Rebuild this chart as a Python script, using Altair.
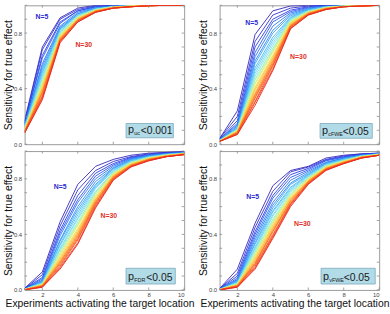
import altair as alt
import pandas as pd

# Sample sizes (one curve each) and the number of experiments on the x axis
N_VALUES = list(range(5, 31))
EXPERIMENTS = list(range(1, 11))

# Sensitivity per experiment count; each inner list runs N=5 ... N=30
SENS_UC = [
    [.17, .16, .15, .15, .14, .14, .13, .13, .12, .12, .12, .11, .11, .11, .11, .10, .10, .10, .10, .09, .09, .09, .09, .09, .08, .08],
    [.70, .68, .64, .62, .58, .56, .54, .52, .51, .49, .48, .46, .45, .44, .43, .42, .41, .40, .39, .38, .37, .37, .35, .34, .33, .32],
    [.91, .90, .88, .87, .85, .84, .83, .83, .82, .81, .80, .80, .79, .79, .78, .78, .77, .77, .76, .76, .76, .75, .75, .74, .74, .73],
    [.98, .97, .96, .96, .95, .94, .94, .93, .93, .93, .92, .92, .92, .91, .91, .91, .90, .90, .90, .90, .89, .89, .89, .89, .88, .88],
    [1.0, .995, .99, .99, .985, .98, .98, .975, .975, .97, .97, .97, .97, .965, .965, .96, .96, .96, .96, .96, .955, .955, .955, .95, .95, .95],
    [1.0, 1.0, 1.0, .995, .995, .995, .99, .99, .99, .99, .99, .99, .99, .985, .985, .985, .985, .985, .985, .985, .98, .98, .98, .98, .98, .98],
    [1.0, 1.0, 1.0, 1.0, 1.0, 1.0, 1.0, 1.0, .995, .995, .995, .995, .995, .995, .995, .995, .995, .995, .99, .99, .99, .99, .99, .99, .99, .99],
    [1.0, 1.0, 1.0, 1.0, 1.0, 1.0, 1.0, 1.0, 1.0, 1.0, 1.0, 1.0, 1.0, 1.0, 1.0, 1.0, .997, .997, .997, .997, .997, .997, .997, .997, .997, .997],
    [1.0, 1.0, 1.0, 1.0, 1.0, 1.0, 1.0, 1.0, 1.0, 1.0, 1.0, 1.0, 1.0, 1.0, 1.0, 1.0, 1.0, 1.0, 1.0, 1.0, 1.0, 1.0, 1.0, 1.0, 1.0, 1.0],
    [1.0, 1.0, 1.0, 1.0, 1.0, 1.0, 1.0, 1.0, 1.0, 1.0, 1.0, 1.0, 1.0, 1.0, 1.0, 1.0, 1.0, 1.0, 1.0, 1.0, 1.0, 1.0, 1.0, 1.0, 1.0, 1.0],
]

SENS_CFWE = [
    [.04, .04, .035, .035, .03, .03, .03, .03, .03, .025, .025, .025, .025, .025, .025, .02, .02, .02, .02, .02, .02, .02, .02, .02, .02, .02],
    [.24, .20, .17, .15, .14, .13, .12, .12, .11, .11, .11, .10, .10, .10, .10, .09, .09, .09, .09, .09, .08, .08, .08, .08, .07, .07],
    [.79, .74, .70, .66, .63, .60, .58, .55, .53, .51, .49, .47, .46, .44, .43, .41, .40, .39, .37, .36, .35, .34, .33, .31, .30, .28],
    [.96, .93, .90, .88, .85, .82, .80, .77, .75, .73, .71, .69, .68, .67, .66, .64, .63, .62, .61, .60, .59, .58, .57, .56, .54, .53],
    [.995, .98, .965, .955, .945, .935, .925, .915, .91, .905, .90, .895, .89, .885, .88, .875, .87, .865, .86, .855, .855, .85, .845, .84, .835, .83],
    [1.0, .995, .99, .985, .98, .975, .97, .97, .965, .96, .96, .955, .955, .95, .95, .95, .945, .945, .945, .94, .94, .94, .935, .935, .93, .93],
    [1.0, 1.0, 1.0, .995, .995, .99, .99, .99, .99, .985, .985, .985, .985, .985, .98, .98, .98, .98, .98, .975, .975, .975, .975, .97, .97, .97],
    [1.0, 1.0, 1.0, 1.0, 1.0, 1.0, .995, .995, .995, .995, .995, .995, .995, .995, .995, .995, .99, .99, .99, .99, .99, .99, .99, .99, .99, .99],
    [1.0, 1.0, 1.0, 1.0, 1.0, 1.0, 1.0, 1.0, 1.0, 1.0, 1.0, 1.0, 1.0, .995, .995, .995, .995, .995, .995, .995, .995, .995, .995, .995, .995, .995],
    [1.0, 1.0, 1.0, 1.0, 1.0, 1.0, 1.0, 1.0, 1.0, 1.0, 1.0, 1.0, 1.0, 1.0, 1.0, 1.0, 1.0, 1.0, 1.0, 1.0, 1.0, 1.0, 1.0, 1.0, 1.0, 1.0],
]

SENS_FDR = [
    [.012, .01, .01, .008, .008, .006, .006, .005, .005, .005, .004, .004, .004, .003, .003, .003, .003, .002, .002, .002, .002, .002, .001, .001, .001, 0],
    [.13, .11, .09, .08, .07, .065, .06, .055, .05, .05, .045, .045, .04, .04, .04, .035, .035, .035, .03, .03, .03, .03, .025, .025, .02, .02],
    [.49, .46, .43, .41, .39, .36, .35, .33, .32, .30, .29, .28, .27, .26, .25, .24, .23, .22, .21, .20, .20, .19, .18, .17, .16, .15],
    [.76, .72, .68, .65, .63, .60, .58, .56, .54, .52, .51, .49, .48, .47, .46, .44, .43, .42, .41, .40, .39, .38, .37, .36, .34, .33],
    [.89, .86, .84, .82, .80, .78, .76, .75, .74, .73, .71, .70, .70, .69, .68, .67, .66, .65, .65, .64, .63, .63, .62, .61, .60, .59],
    [.94, .925, .91, .90, .89, .88, .875, .87, .86, .86, .85, .845, .84, .84, .835, .83, .825, .82, .82, .815, .81, .81, .805, .80, .795, .79],
    [.97, .96, .955, .95, .945, .94, .935, .93, .93, .925, .92, .92, .915, .915, .91, .91, .905, .905, .90, .90, .895, .895, .895, .89, .89, .885],
    [.985, .98, .975, .97, .97, .965, .965, .96, .96, .955, .955, .955, .95, .95, .95, .945, .945, .945, .94, .94, .94, .94, .935, .935, .93, .93],
    [.99, .99, .985, .985, .98, .98, .98, .975, .975, .975, .975, .97, .97, .97, .97, .97, .965, .965, .965, .965, .965, .96, .96, .96, .96, .96],
    [.995, .995, .99, .99, .99, .99, .985, .985, .985, .985, .985, .985, .98, .98, .98, .98, .98, .98, .98, .98, .975, .975, .975, .975, .975, .975],
]

SENS_VFWE = [
    [.01, .008, .008, .006, .006, .005, .005, .004, .004, .004, .003, .003, .003, .003, .002, .002, .002, .002, .002, .001, .001, .001, .001, .001, 0, 0],
    [.15, .12, .10, .085, .075, .07, .065, .06, .055, .05, .05, .045, .045, .04, .04, .04, .035, .035, .03, .03, .03, .03, .025, .025, .02, .02],
    [.48, .45, .42, .40, .38, .36, .34, .33, .31, .30, .29, .28, .27, .26, .25, .24, .23, .22, .21, .20, .19, .19, .18, .17, .16, .15],
    [.75, .71, .68, .66, .63, .61, .59, .57, .56, .54, .53, .51, .50, .49, .48, .47, .46, .45, .44, .43, .42, .42, .40, .39, .38, .37],
    [.86, .85, .83, .81, .79, .77, .76, .74, .73, .72, .71, .70, .69, .68, .68, .67, .66, .66, .65, .64, .64, .63, .62, .62, .61, .60],
    [.89, .885, .875, .865, .855, .845, .835, .83, .825, .82, .815, .81, .805, .80, .80, .795, .79, .785, .785, .78, .78, .775, .77, .77, .765, .76],
    [.95, .94, .935, .93, .92, .915, .91, .91, .905, .90, .895, .895, .89, .89, .885, .885, .88, .88, .875, .875, .875, .87, .87, .865, .865, .86],
    [.97, .965, .96, .955, .95, .95, .945, .94, .94, .935, .935, .93, .93, .93, .925, .925, .925, .92, .92, .92, .915, .915, .915, .91, .91, .91],
    [.98, .98, .975, .975, .97, .97, .97, .965, .965, .965, .965, .96, .96, .96, .96, .96, .955, .955, .955, .955, .955, .955, .95, .95, .95, .95],
    [.985, .985, .985, .98, .98, .98, .98, .98, .98, .975, .975, .975, .975, .975, .975, .975, .975, .97, .97, .97, .97, .97, .97, .97, .97, .97],
]

X_TICKS = [2, 4, 6, 8, 10]
Y_TICKS = [0, 0.1, 0.2, 0.3, 0.4, 0.5, 0.6, 0.7, 0.8, 0.9, 1]

# jet-like ramp from small N (blue) to large N (red)
COLOR_STOPS = [5, 7, 9, 11.5, 14, 16.5, 19, 22, 25.5, 30]
COLOR_RANGE = ["#3326b8", "#2a3ae6", "#2f6ff5", "#45a8f5", "#6fd6ee",
               "#a8f0c8", "#e6ec6a", "#ffc040", "#ff7a2a", "#e8241c"]

W, H = 162, 141
FONT = "Liberation Sans"
FRAME = "#9a9a9a"


def to_long(columns):
    rows = []
    for x, col in zip(EXPERIMENTS, columns):
        assert len(col) == len(N_VALUES)
        for n, v in zip(N_VALUES, col):
            rows.append({"experiments": x, "sensitivity": v, "N": n})
    return pd.DataFrame(rows)


def panel(columns, sub, thresh, n5_xy, n30_xy, box, sub_w, bottom):
    xscale = alt.Scale(domain=[1, 10], nice=False, zero=False)
    yscale = alt.Scale(domain=[0, 1], nice=False)
    x_axis = alt.Axis(
        values=X_TICKS, ticks=False, domain=False, grid=False,
        labels=bottom, labelFontSize=6, labelColor="#444", labelFont=FONT,
        labelPadding=2, labelOverlap=False,
        title="Experiments activating the target location" if bottom else None,
        titleFont=FONT, titleFontSize=10.5, titleFontWeight="normal",
        titleColor="#111", titleX=76, titleY=17, titleAnchor="middle",
        titleBaseline="alphabetic",
    )
    y_axis = alt.Axis(
        values=Y_TICKS, ticks=False, domain=False, grid=False,
        labelFontSize=6, labelColor="#444", labelFont=FONT, labelPadding=3,
        labelOverlap=False, labelFlush=False,
        title="Sensitivity for true effect", titleFont=FONT, titleFontSize=10.5,
        titleFontWeight="normal", titleColor="#111",
        titleX=-16.5, titleY=H / 2, titleBaseline="middle", titleAnchor="middle",
    )
    lines = alt.Chart(to_long(columns)).mark_line(strokeWidth=0.9, clip=True).encode(
        x=alt.X("experiments:Q", scale=xscale, axis=x_axis),
        y=alt.Y("sensitivity:Q", scale=yscale, axis=y_axis),
        color=alt.Color("N:Q", scale=alt.Scale(domain=COLOR_STOPS, range=COLOR_RANGE), legend=None),
        detail="N:N",
    )

    # inward tick marks on all four sides
    xt = pd.DataFrame({"t": X_TICKS})
    yt = pd.DataFrame({"t": Y_TICKS})
    tick_style = dict(color="#8a8a8a", strokeWidth=0.8)
    xb = alt.Chart(xt).mark_rule(**tick_style).encode(
        x=alt.X("t:Q", scale=xscale), y=alt.value(H), y2=alt.value(H - 2.5))
    xtop = alt.Chart(xt).mark_rule(**tick_style).encode(
        x=alt.X("t:Q", scale=xscale), y=alt.value(0), y2=alt.value(2.5))
    yl = alt.Chart(yt).mark_rule(**tick_style).encode(
        y=alt.Y("t:Q", scale=yscale), x=alt.value(0), x2=alt.value(2.5))
    yr = alt.Chart(yt).mark_rule(**tick_style).encode(
        y=alt.Y("t:Q", scale=yscale), x=alt.value(W), x2=alt.value(W - 2.5))

    n5 = alt.Chart(pd.DataFrame({"t": ["N=5"]})).mark_text(
        font=FONT, fontSize=7, fontWeight="bold", color="#2a2ad0", align="center", baseline="middle"
    ).encode(text="t:N", x=alt.value(n5_xy[0]), y=alt.value(n5_xy[1]))
    n30 = alt.Chart(pd.DataFrame({"t": ["N=30"]})).mark_text(
        font=FONT, fontSize=7, fontWeight="bold", color="#e0302a", align="center", baseline="middle"
    ).encode(text="t:N", x=alt.value(n30_xy[0]), y=alt.value(n30_xy[1]))

    bx0, by0, bx1, by1 = box
    rect = alt.Chart(pd.DataFrame({"k": [0]})).mark_rect(
        fill="#b2dbe8", stroke="#7aa8bd", strokeWidth=0.8
    ).encode(x=alt.value(bx0), x2=alt.value(bx1), y=alt.value(by0), y2=alt.value(by1))
    base_y = by1 - 3.5
    p_txt = alt.Chart(pd.DataFrame({"t": ["p"]})).mark_text(
        font=FONT, fontSize=11, color="#1a1a1a", align="left", baseline="alphabetic"
    ).encode(text="t:N", x=alt.value(bx0 + 2), y=alt.value(base_y - 1))
    s_txt = alt.Chart(pd.DataFrame({"t": [sub]})).mark_text(
        font=FONT, fontSize=5.5, color="#1a1a1a", align="left", baseline="alphabetic"
    ).encode(text="t:N", x=alt.value(bx0 + 8.3), y=alt.value(base_y + 1))
    m_txt = alt.Chart(pd.DataFrame({"t": [thresh]})).mark_text(
        font=FONT, fontSize=10.5, color="#1a1a1a", align="left", baseline="alphabetic"
    ).encode(text="t:N", x=alt.value(bx0 + 8.5 + sub_w), y=alt.value(base_y))

    return alt.layer(lines, xb, xtop, yl, yr, n5, n30, rect, p_txt, s_txt, m_txt).properties(
        width=W, height=H)


p1 = panel(SENS_UC, "uc", "<0.001", (17.5, 12), (60, 40), (103, 120, 151, 134.5), 6.3, False)
p2 = panel(SENS_CFWE, "cFWE", "<0.05", (32.5, 18), (80, 53), (102, 120, 155, 135), 14.5, False)
p3 = panel(SENS_FDR, "FDR", "<0.05", (36, 37), (85.5, 66), (103, 119, 153, 135), 12.0, True)
p4 = panel(SENS_VFWE, "vFWE", "<0.05", (33.5, 47), (84, 74), (103, 119, 158, 135), 14.5, True)

chart = alt.concat(
    p1, p2, p3, p4, columns=2, spacing={"row": 7, "column": 36}, bounds="flush"
).properties(
    padding={"left": 3, "top": 2, "right": 0, "bottom": 0},
    background="white",
).configure_view(stroke=FRAME, strokeWidth=1)

chart.save("out.html", embed_options={"renderer": "svg", "actions": False})
